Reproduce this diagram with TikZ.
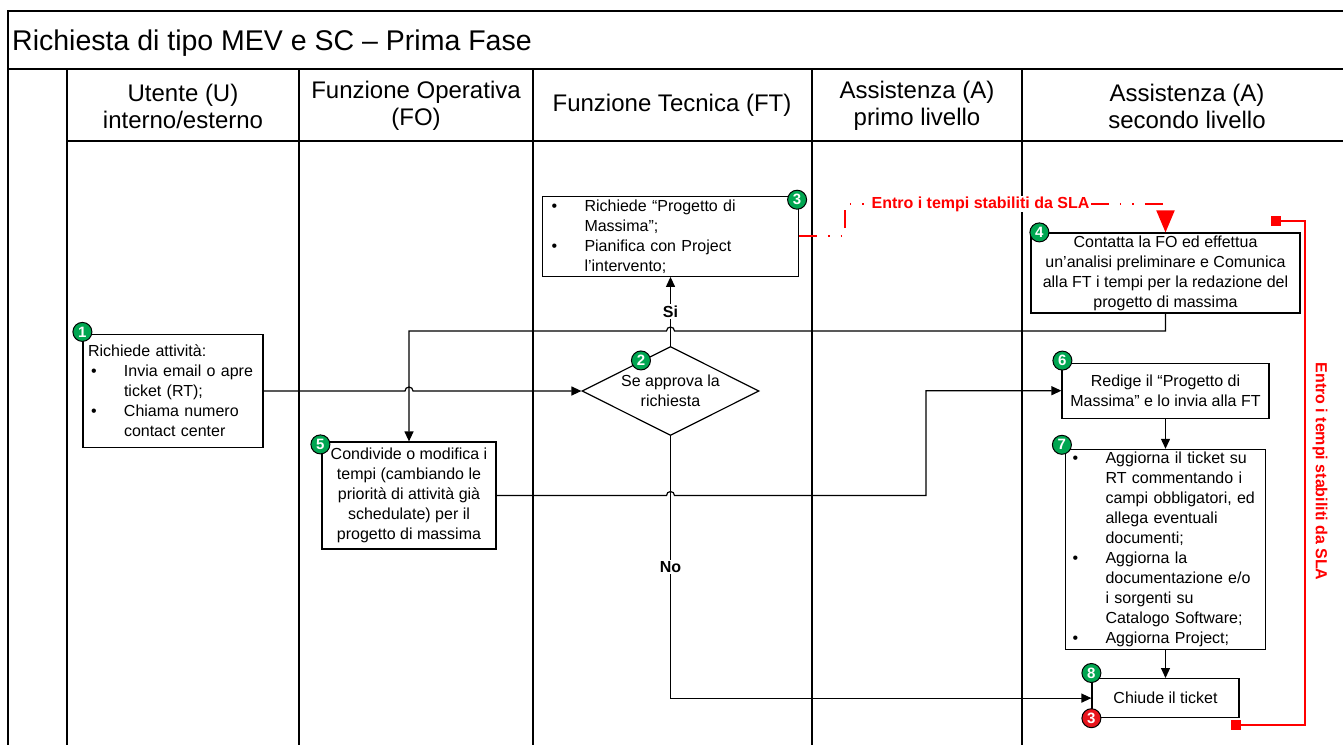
\documentclass[tikz,border=0pt]{standalone}
\usepackage{fontspec}
\setmainfont{Liberation Sans}
\usepackage{xcolor}
\definecolor{cGreen}{HTML}{00A651}
\definecolor{cRed}{HTML}{FF0000}
\definecolor{cBadgeRed}{HTML}{E8141C}
\usetikzlibrary{positioning,arrows.meta,shapes.geometric,calc}
\newcommand\fsz[2]{\fontsize{#1}{#2}\selectfont}
\newcommand\bul{\makebox[36pt][l]{\hspace{3pt}\textbullet}}
\newcommand\bulgap{\hspace*{36pt}}
\tikzset{
  lane-line/.style={draw=black,line width=1.6pt},
  lane-head/.style={font=\fsz{24}{27},align=center,inner sep=0pt},
  node-box/.style={draw=black,line width=1.2pt,fill=white,inner xsep=4pt,
    inner ysep=2pt,font=\fsz{16}{20},align=center},
  node-list/.style={node-box,align=left},
  node-dec/.style={node-box,diamond,shape aspect=2,inner sep=0pt},
  node-badge/.style={circle,draw=black,line width=1pt,fill=cGreen,text=white,
    font=\fsz{15}{15}\bfseries,minimum size=19pt,inner sep=0pt},
  node-badge-red/.style={node-badge,fill=cBadgeRed},
  arrow/.style={-{Triangle[length=10pt,width=9pt]},line width=1.2pt,draw=black},
  arrow-sla/.style={-{Triangle[length=22pt,width=18pt]},line width=2pt,draw=cRed,
    dash pattern=on 18pt off 11pt on 1.5pt off 11pt on 1.5pt off 11pt},
  line-sla/.style={{Square[length=10pt,width=10pt]}-{Square[length=10pt,width=10pt]},
    line width=1.6pt,draw=cRed},
  label-yn/.style={fill=white,inner sep=1.5pt,font=\fsz{16}{20}\bfseries},
  label-sla/.style={fill=white,inner sep=1pt,text=cRed,font=\fsz{16}{20}\bfseries},
}
\begin{document}
\begin{tikzpicture}[x=1pt,y=-1pt]
  \useasboundingbox (0,0) rectangle (1343,744);
  \clip (0,0) rectangle (1343,744);
  % swimlanes
  \draw[lane-line] (8,760) -- (8,11) -- (1352,11) -- (1352,760);
  \draw[lane-line] (8,69) -- (1352,69);
  \draw[lane-line] (67,141) -- (1352,141);
  \foreach \x in {67,299,533,812,1022}
    \draw[lane-line] (\x,69) -- (\x,760);
  \node[anchor=base west,inner sep=0pt,font=\fsz{28.5}{30}] (title) at (12,50)
    {Richiesta di tipo MEV e SC – Prima Fase};
  \node[lane-head] (hU) at (183,106) {Utente (U)\\interno/esterno};
  \node[lane-head] (hFO) at (416,106) {Funzione Operativa\\(FO)};
  \node[lane-head] (hFT) at (672,105) {Funzione Tecnica (FT)};
  \node[lane-head] (hA1) at (917,106) {Assistenza (A)\\primo livello};
  \node[lane-head] (hA2) at (1187,106) {Assistenza (A)\\secondo livello};

  % steps
  \node[node-list,inner xsep=5pt,text width=170pt,minimum height=113pt] (u1) at (173,391)
    {Richiede attività:\\\bul Invia email o apre\\\bulgap ticket (RT);\\\bul Chiama numero\\\bulgap contact center};
  \node[node-dec,minimum width=177pt,minimum height=89pt] (d2) at (670.5,391)
    {Se approva la\\richiesta};
  \node[node-list,inner xsep=6pt,text width=244pt,minimum height=80pt,above=69pt of d2] (ft3)
    {\bul Richiede “Progetto di\\\bulgap Massima”;\\\bul Pianifica con Project\\\bulgap l’intervento;};
  \node[node-box,minimum width=269pt,minimum height=80pt] (a4) at (1165.5,273)
    {Contatta la FO ed effettua\\un’analisi preliminare e Comunica\\alla FT i tempi per la redazione del\\progetto di massima};
  \node[node-box,minimum width=174pt,minimum height=107pt] (fo5) at (409,495.5)
    {Condivide o modifica i\\tempi (cambiando le\\priorità di attività già\\schedulate) per il\\progetto di massima};
  \node[node-box,minimum width=207pt,minimum height=55pt,below=49pt of a4] (a6)
    {Redige il “Progetto di\\Massima” e lo invia alla FT};
  \node[node-list,inner xsep=4pt,text width=192pt,minimum height=200pt,below=30pt of a6] (a7)
    {\bul Aggiorna il ticket su\\\bulgap RT commentando i\\\bulgap campi obbligatori, ed\\\bulgap allega eventuali\\\bulgap documenti;\\\bul Aggiorna la\\\bulgap documentazione e/o\\\bulgap i sorgenti su\\\bulgap Catalogo Software;\\\bul Aggiorna Project;};
  \node[node-box,minimum width=147pt,minimum height=39pt,below=28pt of a7] (a8)
    {Chiude il ticket};

  % flow
  \coordinate (rowA) at (0,331);
  \coordinate (colB) at (926,0);
  \draw[arrow] (u1.east) -- ($(u1.east -| fo5.north)+(-4,0)$)
    arc[start angle=180,end angle=0,radius=4pt] -- (u1.east -| d2.west);
  \draw[arrow] (d2.north) -- node[label-yn]{Si} (ft3.south);
  \draw[arrow] (a4.south) -- (a4.south |- rowA) -- ($(d2.north |- rowA)+(4,0)$)
    arc[start angle=0,end angle=180,radius=4pt] -- (fo5.north |- rowA) -- (fo5.north);
  \draw[arrow] (d2.south) -- node[label-yn]{No} (d2.south |- a8.west) -- (a8.west);
  \draw[arrow] (fo5.east) -- ($(fo5.east -| d2.south)+(-4,0)$)
    arc[start angle=180,end angle=0,radius=4pt] -- (fo5.east -| colB) |- (a6.west);
  \draw[arrow] (a6) -- (a7);
  \draw[arrow] (a7) -- (a8);

  % SLA
  \coordinate (slaTurn) at (845,204);
  \draw[arrow-sla] (ft3.east) -| (slaTurn) -| (a4.north);
  \node[label-sla] (slaTxt) at (980.5,204) {Entro i tempi stabiliti da SLA};
  \coordinate (slaTop) at (1271,221);
  \coordinate (slaBot) at (1231,725);
  \draw[line-sla] (slaTop) -- ++(34,0) |- (slaBot);
  \node[label-sla,fill=none,rotate=-90] (slaSide) at (1320,471.5) {Entro i tempi stabiliti da SLA};

  % badges
  \node[node-badge] (n1) at ([yshift=2pt]u1.north west) {1};
  \node[node-badge] (n2) at ([xshift=15pt,yshift=8pt]d2.north west) {2};
  \node[node-badge] (n3) at ([xshift=-2pt,yshift=-4pt]ft3.north east) {3};
  \node[node-badge] (n4) at ([xshift=9pt]a4.north west) {4};
  \node[node-badge] (n5) at ([xshift=-1pt,yshift=-3pt]fo5.north west) {5};
  \node[node-badge] (n6) at ([xshift=1pt,yshift=2pt]a6.north west) {6};
  \node[node-badge] (n7) at ([xshift=-3pt,yshift=4pt]a7.north west) {7};
  \node[node-badge] (n8) at ([yshift=5pt]a8.north west) {8};
  \node[node-badge-red] (r3) at (a8.south west) {3};
\end{tikzpicture}
\end{document}
